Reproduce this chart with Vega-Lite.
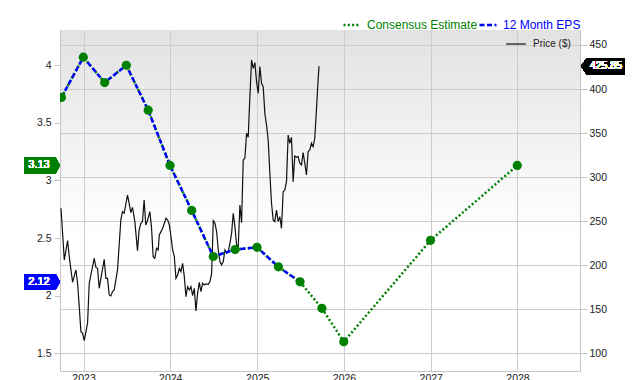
{
  "$schema": "https://vega.github.io/schema/vega-lite/v6.json",
  "width": 520,
  "height": 341,
  "autosize": {"type": "none"},
  "padding": {"left": 60, "top": 30, "right": 60, "bottom": 9},
  "background": "white",
  "config": {
    "font": "Liberation Sans",
    "view": {
      "stroke": null,
      "fill": {"gradient": "linear", "x1": 0, "y1": 0, "x2": 0, "y2": 1,
        "stops": [{"offset": 0, "color": "#e2e2e2"}, {"offset": 0.6, "color": "#ffffff"}, {"offset": 1, "color": "#ffffff"}]}
    },
    "axis": {"labelFontSize": 10.5, "labelColor": "#222", "domainColor": "#c4c4c4", "tickColor": "#c4c4c4", "gridColor": "#cccccc", "title": null}
  },
  "datasets": {
    "eps": [
      {"date": "2022-09-30", "eps": 3.72, "kind": "actual"},
      {"date": "2022-12-31", "eps": 4.07, "kind": "actual"},
      {"date": "2023-03-31", "eps": 3.85, "kind": "actual"},
      {"date": "2023-06-30", "eps": 4.00, "kind": "actual"},
      {"date": "2023-09-30", "eps": 3.61, "kind": "actual"},
      {"date": "2023-12-31", "eps": 3.13, "kind": "actual"},
      {"date": "2024-03-31", "eps": 2.74, "kind": "actual"},
      {"date": "2024-06-30", "eps": 2.34, "kind": "actual"},
      {"date": "2024-09-30", "eps": 2.40, "kind": "actual"},
      {"date": "2024-12-31", "eps": 2.42, "kind": "actual"},
      {"date": "2025-03-31", "eps": 2.25, "kind": "actual"},
      {"date": "2025-06-30", "eps": 2.12, "kind": "actual"},
      {"date": "2025-09-30", "eps": 1.89, "kind": "estimate"},
      {"date": "2025-12-31", "eps": 1.60, "kind": "estimate"},
      {"date": "2026-12-31", "eps": 2.48, "kind": "estimate"},
      {"date": "2027-12-31", "eps": 3.13, "kind": "estimate"}
    ],
    "price": [
      {"date": "2022-09-28", "price": 264.6},
      {"date": "2022-10-05", "price": 236.2},
      {"date": "2022-10-12", "price": 206.0},
      {"date": "2022-10-26", "price": 227.9},
      {"date": "2022-11-02", "price": 209.7},
      {"date": "2022-11-16", "price": 180.6},
      {"date": "2022-11-30", "price": 194.6},
      {"date": "2022-12-07", "price": 179.5},
      {"date": "2022-12-14", "price": 153.0},
      {"date": "2022-12-21", "price": 124.6},
      {"date": "2022-12-28", "price": 122.7},
      {"date": "2023-01-04", "price": 114.4},
      {"date": "2023-01-18", "price": 134.1},
      {"date": "2023-01-25", "price": 179.5},
      {"date": "2023-02-01", "price": 188.9},
      {"date": "2023-02-15", "price": 207.8},
      {"date": "2023-02-22", "price": 197.6},
      {"date": "2023-03-01", "price": 196.5},
      {"date": "2023-03-08", "price": 173.8},
      {"date": "2023-03-15", "price": 185.1},
      {"date": "2023-03-29", "price": 206.7},
      {"date": "2023-04-05", "price": 185.1},
      {"date": "2023-04-12", "price": 185.1},
      {"date": "2023-04-19", "price": 166.2},
      {"date": "2023-04-26", "price": 165.1},
      {"date": "2023-05-03", "price": 170.0},
      {"date": "2023-05-10", "price": 171.9},
      {"date": "2023-05-24", "price": 194.6},
      {"date": "2023-06-07", "price": 251.4},
      {"date": "2023-06-14", "price": 260.8},
      {"date": "2023-06-21", "price": 258.9},
      {"date": "2023-07-05", "price": 279.7},
      {"date": "2023-07-12", "price": 270.3},
      {"date": "2023-07-19", "price": 259.7},
      {"date": "2023-07-26", "price": 265.7},
      {"date": "2023-08-05", "price": 249.5},
      {"date": "2023-08-16", "price": 216.6},
      {"date": "2023-08-23", "price": 240.0},
      {"date": "2023-08-30", "price": 247.6},
      {"date": "2023-09-06", "price": 249.5},
      {"date": "2023-09-13", "price": 274.1},
      {"date": "2023-09-20", "price": 245.7},
      {"date": "2023-09-27", "price": 250.6},
      {"date": "2023-10-07", "price": 260.8},
      {"date": "2023-10-14", "price": 243.0},
      {"date": "2023-10-21", "price": 209.7},
      {"date": "2023-10-28", "price": 207.8},
      {"date": "2023-11-04", "price": 219.2},
      {"date": "2023-11-11", "price": 217.3},
      {"date": "2023-11-16", "price": 234.3},
      {"date": "2023-11-23", "price": 238.1},
      {"date": "2023-11-30", "price": 241.9},
      {"date": "2023-12-07", "price": 247.6},
      {"date": "2023-12-14", "price": 253.3},
      {"date": "2023-12-21", "price": 251.4},
      {"date": "2023-12-28", "price": 245.7},
      {"date": "2024-01-04", "price": 232.4},
      {"date": "2024-01-11", "price": 217.3},
      {"date": "2024-01-18", "price": 209.7},
      {"date": "2024-01-25", "price": 185.1},
      {"date": "2024-02-01", "price": 188.9},
      {"date": "2024-02-08", "price": 196.5},
      {"date": "2024-02-15", "price": 192.7},
      {"date": "2024-02-22", "price": 202.2},
      {"date": "2024-02-29", "price": 187.0},
      {"date": "2024-03-07", "price": 164.3},
      {"date": "2024-03-14", "price": 175.7},
      {"date": "2024-03-21", "price": 171.9},
      {"date": "2024-03-28", "price": 175.7},
      {"date": "2024-04-04", "price": 165.5},
      {"date": "2024-04-11", "price": 173.8},
      {"date": "2024-04-18", "price": 148.1},
      {"date": "2024-04-25", "price": 168.1},
      {"date": "2024-05-02", "price": 180.6},
      {"date": "2024-05-09", "price": 170.0},
      {"date": "2024-05-16", "price": 179.5},
      {"date": "2024-05-23", "price": 177.6},
      {"date": "2024-05-30", "price": 178.7},
      {"date": "2024-06-09", "price": 178.3},
      {"date": "2024-06-16", "price": 181.4},
      {"date": "2024-06-23", "price": 190.8},
      {"date": "2024-06-30", "price": 250.6},
      {"date": "2024-07-07", "price": 247.6},
      {"date": "2024-07-14", "price": 238.1},
      {"date": "2024-07-21", "price": 217.3},
      {"date": "2024-07-28", "price": 204.1},
      {"date": "2024-08-04", "price": 200.3},
      {"date": "2024-08-11", "price": 204.1},
      {"date": "2024-08-18", "price": 217.3},
      {"date": "2024-08-25", "price": 213.5},
      {"date": "2024-09-01", "price": 215.4},
      {"date": "2024-09-08", "price": 224.9},
      {"date": "2024-09-15", "price": 236.2},
      {"date": "2024-09-22", "price": 258.9},
      {"date": "2024-09-29", "price": 243.8},
      {"date": "2024-10-06", "price": 223.0},
      {"date": "2024-10-13", "price": 221.1},
      {"date": "2024-10-20", "price": 268.4},
      {"date": "2024-10-27", "price": 248.3},
      {"date": "2024-11-03", "price": 319.5},
      {"date": "2024-11-10", "price": 321.4},
      {"date": "2024-11-17", "price": 349.7},
      {"date": "2024-11-24", "price": 345.2},
      {"date": "2024-12-01", "price": 391.4},
      {"date": "2024-12-08", "price": 433.0},
      {"date": "2024-12-15", "price": 423.5},
      {"date": "2024-12-22", "price": 430.0},
      {"date": "2024-12-29", "price": 408.4},
      {"date": "2025-01-05", "price": 395.1},
      {"date": "2025-01-12", "price": 425.4},
      {"date": "2025-01-19", "price": 406.5},
      {"date": "2025-01-26", "price": 402.7},
      {"date": "2025-02-02", "price": 372.4},
      {"date": "2025-02-09", "price": 359.2},
      {"date": "2025-02-16", "price": 342.2},
      {"date": "2025-02-23", "price": 304.3},
      {"date": "2025-03-02", "price": 270.3},
      {"date": "2025-03-09", "price": 251.4},
      {"date": "2025-03-16", "price": 249.5},
      {"date": "2025-03-23", "price": 262.7},
      {"date": "2025-03-30", "price": 249.5},
      {"date": "2025-04-06", "price": 255.1},
      {"date": "2025-04-13", "price": 241.9},
      {"date": "2025-04-20", "price": 283.5},
      {"date": "2025-04-27", "price": 285.4},
      {"date": "2025-05-04", "price": 294.9},
      {"date": "2025-05-11", "price": 347.8},
      {"date": "2025-05-18", "price": 338.4},
      {"date": "2025-05-25", "price": 345.2},
      {"date": "2025-06-01", "price": 294.9},
      {"date": "2025-06-08", "price": 324.0},
      {"date": "2025-06-15", "price": 322.5},
      {"date": "2025-06-22", "price": 323.3},
      {"date": "2025-06-29", "price": 315.7},
      {"date": "2025-07-06", "price": 313.8},
      {"date": "2025-07-13", "price": 327.8},
      {"date": "2025-07-20", "price": 315.7},
      {"date": "2025-07-27", "price": 302.4},
      {"date": "2025-08-03", "price": 328.9},
      {"date": "2025-08-10", "price": 330.8},
      {"date": "2025-08-17", "price": 338.4},
      {"date": "2025-08-24", "price": 334.6},
      {"date": "2025-08-31", "price": 344.1},
      {"date": "2025-09-07", "price": 376.2},
      {"date": "2025-09-14", "price": 410.3},
      {"date": "2025-09-18", "price": 425.85}
    ]
  },
  "layer": [
    {
      "data": {"name": "price"},
      "layer": [
        {
          "mark": {"type": "line", "color": "#111111", "clip": true},
          "encoding": {
            "x": {"field": "date", "type": "temporal",
              "scale": {"domain": [{"year": 2022, "month": 9, "date": 24}, {"year": 2028, "month": 9, "date": 20}]},
              "axis": {"format": "%Y", "tickCount": {"interval": "year", "step": 1}, "grid": true, "ticks": false, "labelPadding": 2, "labelFlush": false, "labelOverlap": false}},
            "y": {"field": "price", "type": "quantitative",
              "scale": {"domain": [79.9, 467], "zero": false, "nice": false},
              "axis": {"orient": "right", "values": [100, 150, 200, 250, 300, 350, 400, 450], "grid": true, "tickSize": 7, "labelPadding": 2, "format": "d"}},
            "strokeWidth": {"datum": "Price ($)", "type": "nominal",
              "scale": {"type": "ordinal", "range": [1.2]},
              "legend": {"orient": "none", "legendX": 445, "legendY": 3, "title": null, "symbolType": "stroke", "symbolSize": 400, "labelFontSize": 10, "labelColor": "#222", "labelOffset": 6, "padding": 0,
                "encode": {"symbols": {"update": {"stroke": {"value": "#777777"}, "strokeWidth": {"value": 2}}}}}}
          }
        },
        {
          "mark": {"type": "point", "shape": "M-1,0L-0.73,-0.37L1,-0.37L1,0.37L-0.73,0.37Z", "filled": true, "color": "#000000", "opacity": 1, "size": 1936, "xOffset": 23},
          "encoding": {
            "x": {"datum": {"year": 2028, "month": 9, "date": 20}, "type": "temporal",
              "scale": {"domain": [{"year": 2022, "month": 9, "date": 24}, {"year": 2028, "month": 9, "date": 20}]}},
            "y": {"datum": 425.85, "type": "quantitative", "scale": {"domain": [79.9, 467], "zero": false, "nice": false}}
          }
        },
        {
          "mark": {"type": "text", "text": "425.85", "color": "white", "fontSize": 10.5, "xOffset": 26},
          "encoding": {
            "x": {"datum": {"year": 2028, "month": 9, "date": 20}, "type": "temporal",
              "scale": {"domain": [{"year": 2022, "month": 9, "date": 24}, {"year": 2028, "month": 9, "date": 20}]}},
            "y": {"datum": 425.85, "type": "quantitative", "scale": {"domain": [79.9, 467], "zero": false, "nice": false}}
          }
        }
      ]
    },
    {
      "data": {"name": "eps"},
      "layer": [
        {
          "mark": {"type": "line", "strokeDash": [2, 2.3], "strokeWidth": 2.5, "clip": true},
          "encoding": {
            "x": {"field": "date", "type": "temporal",
              "scale": {"domain": [{"year": 2022, "month": 9, "date": 24}, {"year": 2028, "month": 9, "date": 20}]}},
            "y": {"field": "eps", "type": "quantitative",
              "scale": {"domain": [1.346, 4.306], "zero": false, "nice": false},
              "axis": {"orient": "left", "values": [1.5, 2, 2.5, 3, 3.5, 4], "grid": false, "tickSize": 6, "labelPadding": 3, "format": "~g"}},
            "color": {"datum": "Consensus Estimate", "type": "nominal",
              "scale": {"domain": ["Consensus Estimate", "12 Month EPS"], "range": ["#008000", "#0000ff"]},
              "legend": {"orient": "none", "legendX": 282, "legendY": -15, "direction": "horizontal", "title": null, "symbolType": "stroke", "symbolSize": 289, "symbolStrokeWidth": 2.5, "labelFontSize": 12, "labelOffset": 5, "columnPadding": -6, "padding": 0,
                "encode": {
                  "labels": {"update": {"fill": {"signal": "datum.value === 'Consensus Estimate' ? '#008000' : '#0000ff'"}}},
                  "symbols": {"update": {"strokeDash": {"signal": "datum.value === 'Consensus Estimate' ? [2, 2.3] : [5, 2.5]"}}}
                }}}
          }
        },
        {
          "transform": [{"filter": "datum.kind === 'actual'"}],
          "mark": {"type": "line", "strokeDash": [5, 2.5], "strokeWidth": 2.5, "clip": true},
          "encoding": {
            "x": {"field": "date", "type": "temporal",
              "scale": {"domain": [{"year": 2022, "month": 9, "date": 24}, {"year": 2028, "month": 9, "date": 20}]}},
            "y": {"field": "eps", "type": "quantitative", "scale": {"domain": [1.346, 4.306], "zero": false, "nice": false}},
            "color": {"datum": "12 Month EPS", "type": "nominal"}
          }
        },
        {
          "mark": {"type": "circle", "color": "#008000", "opacity": 1, "size": 85, "clip": true},
          "encoding": {
            "x": {"field": "date", "type": "temporal",
              "scale": {"domain": [{"year": 2022, "month": 9, "date": 24}, {"year": 2028, "month": 9, "date": 20}]}},
            "y": {"field": "eps", "type": "quantitative", "scale": {"domain": [1.346, 4.306], "zero": false, "nice": false}}
          }
        },
        {
          "mark": {"type": "point", "shape": "M-1,-0.44L0.76,-0.44L1,0L0.76,0.44L-1,0.44Z", "filled": true, "color": "#008000", "opacity": 1, "size": 1296, "xOffset": -18},
          "encoding": {
            "x": {"datum": {"year": 2022, "month": 9, "date": 24}, "type": "temporal",
              "scale": {"domain": [{"year": 2022, "month": 9, "date": 24}, {"year": 2028, "month": 9, "date": 20}]}},
            "y": {"datum": 3.13, "type": "quantitative", "scale": {"domain": [1.346, 4.306], "zero": false, "nice": false}}
          }
        },
        {
          "mark": {"type": "text", "text": "3.13", "color": "white", "fontSize": 11, "xOffset": -21},
          "encoding": {
            "x": {"datum": {"year": 2022, "month": 9, "date": 24}, "type": "temporal",
              "scale": {"domain": [{"year": 2022, "month": 9, "date": 24}, {"year": 2028, "month": 9, "date": 20}]}},
            "y": {"datum": 3.13, "type": "quantitative", "scale": {"domain": [1.346, 4.306], "zero": false, "nice": false}}
          }
        },
        {
          "mark": {"type": "point", "shape": "M-1,-0.44L0.76,-0.44L1,0L0.76,0.44L-1,0.44Z", "filled": true, "color": "#0000ff", "opacity": 1, "size": 1296, "xOffset": -18},
          "encoding": {
            "x": {"datum": {"year": 2022, "month": 9, "date": 24}, "type": "temporal",
              "scale": {"domain": [{"year": 2022, "month": 9, "date": 24}, {"year": 2028, "month": 9, "date": 20}]}},
            "y": {"datum": 2.12, "type": "quantitative", "scale": {"domain": [1.346, 4.306], "zero": false, "nice": false}}
          }
        },
        {
          "mark": {"type": "text", "text": "2.12", "color": "white", "fontSize": 11, "xOffset": -21},
          "encoding": {
            "x": {"datum": {"year": 2022, "month": 9, "date": 24}, "type": "temporal",
              "scale": {"domain": [{"year": 2022, "month": 9, "date": 24}, {"year": 2028, "month": 9, "date": 20}]}},
            "y": {"datum": 2.12, "type": "quantitative", "scale": {"domain": [1.346, 4.306], "zero": false, "nice": false}}
          }
        }
      ]
    }
  ],
  "resolve": {"scale": {"y": "independent"}}
}
